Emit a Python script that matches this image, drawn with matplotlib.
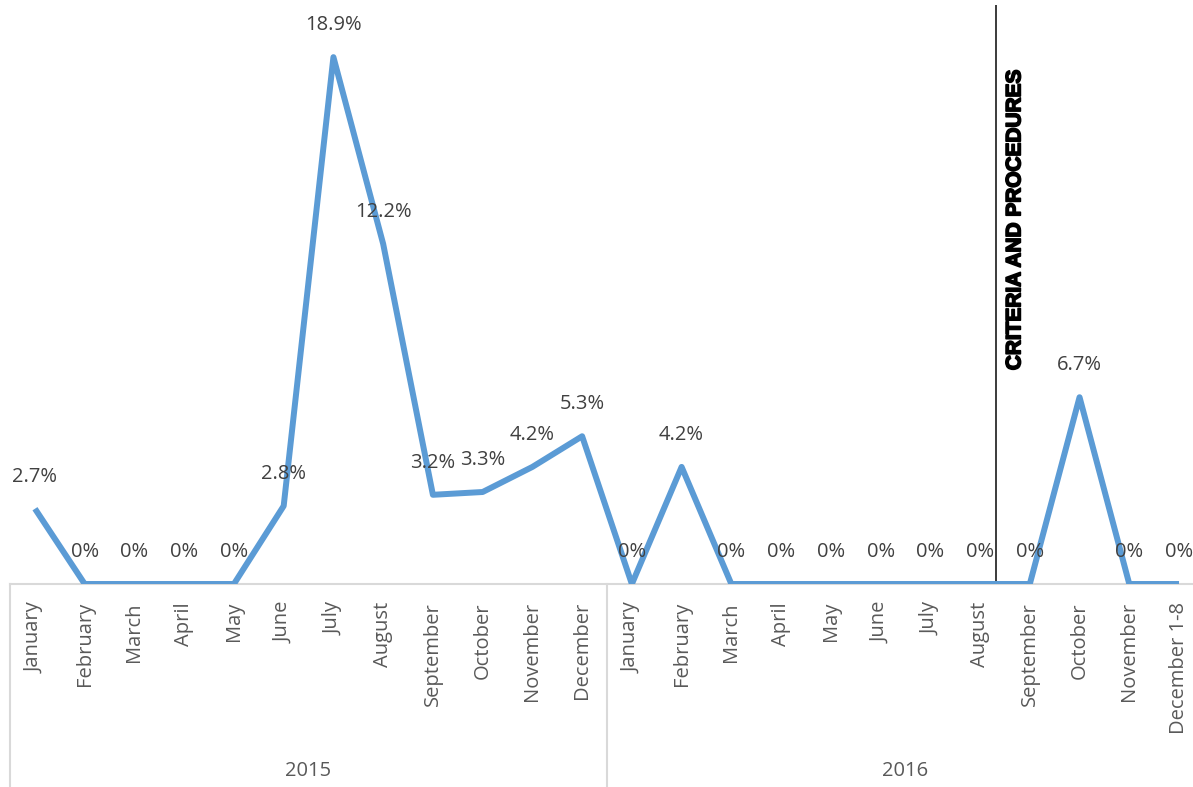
import matplotlib.pyplot as plt
import matplotlib.patheffects as pe
from matplotlib.lines import Line2D
from matplotlib.transforms import blended_transform_factory

months = ['January', 'February', 'March', 'April', 'May', 'June', 'July', 'August',
          'September', 'October', 'November', 'December',
          'January', 'February', 'March', 'April', 'May', 'June', 'July', 'August',
          'September', 'October', 'November', 'December 1-8']
years = ['2015', '2016']
rates = [2.7, 0, 0, 0, 0, 2.8, 18.9, 12.2, 3.2, 3.3, 4.2, 5.3,
         0, 4.2, 0, 0, 0, 0, 0, 0, 0, 6.7, 0, 0]
marker_pos = 19.33
marker_text = 'CRITERIA AND PROCEDURES'

plt.rcParams['font.family'] = ['Open Sans', 'DejaVu Sans']

fig = plt.figure(figsize=(11.93, 7.87), dpi=100)
ax = fig.add_axes([10.1 / 1193, 203 / 787, 1193.8 / 1193, 579 / 787])

x = list(range(len(rates)))
ax.plot(x, rates, color='#5B9BD5', linewidth=4.3, solid_joinstyle='round',
        solid_capstyle='butt', zorder=3)

for xi, v in zip(x, rates):
    label = '0%' if v == 0 else f'{v}%'
    ax.annotate(label, (xi, v), xytext=(0, 23), textcoords='offset points',
                ha='center', va='center', fontsize=14.5, color='#404040')

ax.axvline(marker_pos, color='#1a1a1a', linewidth=1.2, zorder=2)
ax.text(19.7, 13.06, marker_text, rotation=90, ha='center', va='center',
        fontsize=15, fontweight='bold', family=['Liberation Sans', 'DejaVu Sans'],
        color='black', path_effects=[pe.withStroke(linewidth=1.2, foreground='black')])

ax.set_xlim(-0.5, len(rates) - 0.5)
ax.set_ylim(0, 20.77)
ax.set_xticks(x)
ax.set_xticklabels(months, rotation=90, fontsize=14.5, color='#595959')
ax.tick_params(axis='x', length=0, pad=13)
ax.set_yticks([])
for side in ['top', 'left', 'right']:
    ax.spines[side].set_visible(False)
ax.spines['bottom'].set_color('#D9D9D9')
ax.spines['bottom'].set_linewidth(1.5)

# year group labels and separators under the month axis
trans = blended_transform_factory(ax.transData, fig.transFigure)
for i, yr in enumerate(years):
    ax.text(i * 12 + 5.5, 1 - 771 / 787, yr, transform=trans, ha='center',
            va='center', fontsize=14.5, color='#595959')
for sep in [-0.5, 11.5, 23.5]:
    fig.add_artist(Line2D([sep, sep], [0, 203 / 787], transform=trans,
                          color='#D9D9D9', linewidth=1.5, clip_on=False))

fig.savefig('out.png', dpi=100)
